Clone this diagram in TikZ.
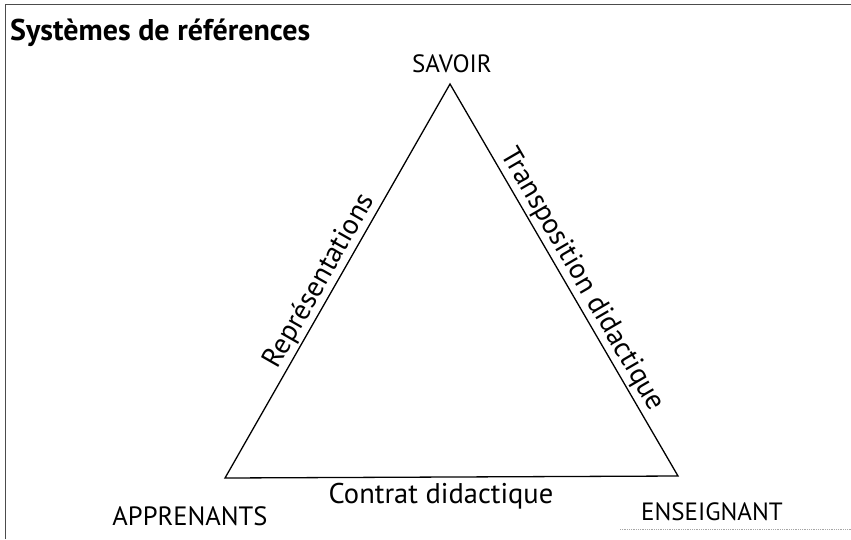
\documentclass[tikz,border=0pt]{standalone}
\usepackage{fontspec}
\setmainfont{PT Sans}
\begin{document}
\begin{tikzpicture}[x=1pt,y=-1pt,
  lbl/.style={font=\fontsize{28.5}{32}\selectfont, inner sep=0pt},
  caps/.style={font=\fontsize{25}{29}\selectfont, inner sep=0pt},
  edge/.style={draw=black, line width=1.3pt, line join=miter},
  frame/.style={draw=black!70, line width=0.9pt}]
\useasboundingbox (0,0) rectangle (851,539);
\fill[white] (0,0) rectangle (851,539);
% frame
\coordinate (f1) at (5,539);
\coordinate (f2) at (5,4);
\coordinate (f3) at (851,4);
\draw[frame] (f1) -- (f2) -- (f3);
\coordinate (g1) at (620,529);
\coordinate (g2) at (851,529);
\draw[draw=black!35, line width=0.8pt, densely dotted] (g1) -- (g2);
% title
\node[anchor=base west, inner sep=0pt, font=\fontsize{30}{34}\selectfont\bfseries] (title) at (10,40) {Systèmes de références};
% triangle
\coordinate (S) at (450,84);
\coordinate (A) at (225,478);
\coordinate (E) at (678,476);
\draw[edge] (A) -- node[lbl, sloped, above=1.5pt, pos=0.48] (rep) {Représentations}
  (S) -- node[lbl, sloped, above=2pt, pos=0.52] (trans) {Transposition didactique}
  (E) -- cycle;
\node[lbl, anchor=base] (contrat) at (441,503) {Contrat didactique};
% vertices
\node[caps, anchor=base] (savoir) at (452,72) {SAVOIR};
\node[caps, anchor=base, font=\fontsize{26.5}{30}\selectfont] (app) at (190,525) {APPRENANTS};
\node[caps, anchor=base] (ens) at (712,520) {ENSEIGNANT};
\end{tikzpicture}
\end{document}
